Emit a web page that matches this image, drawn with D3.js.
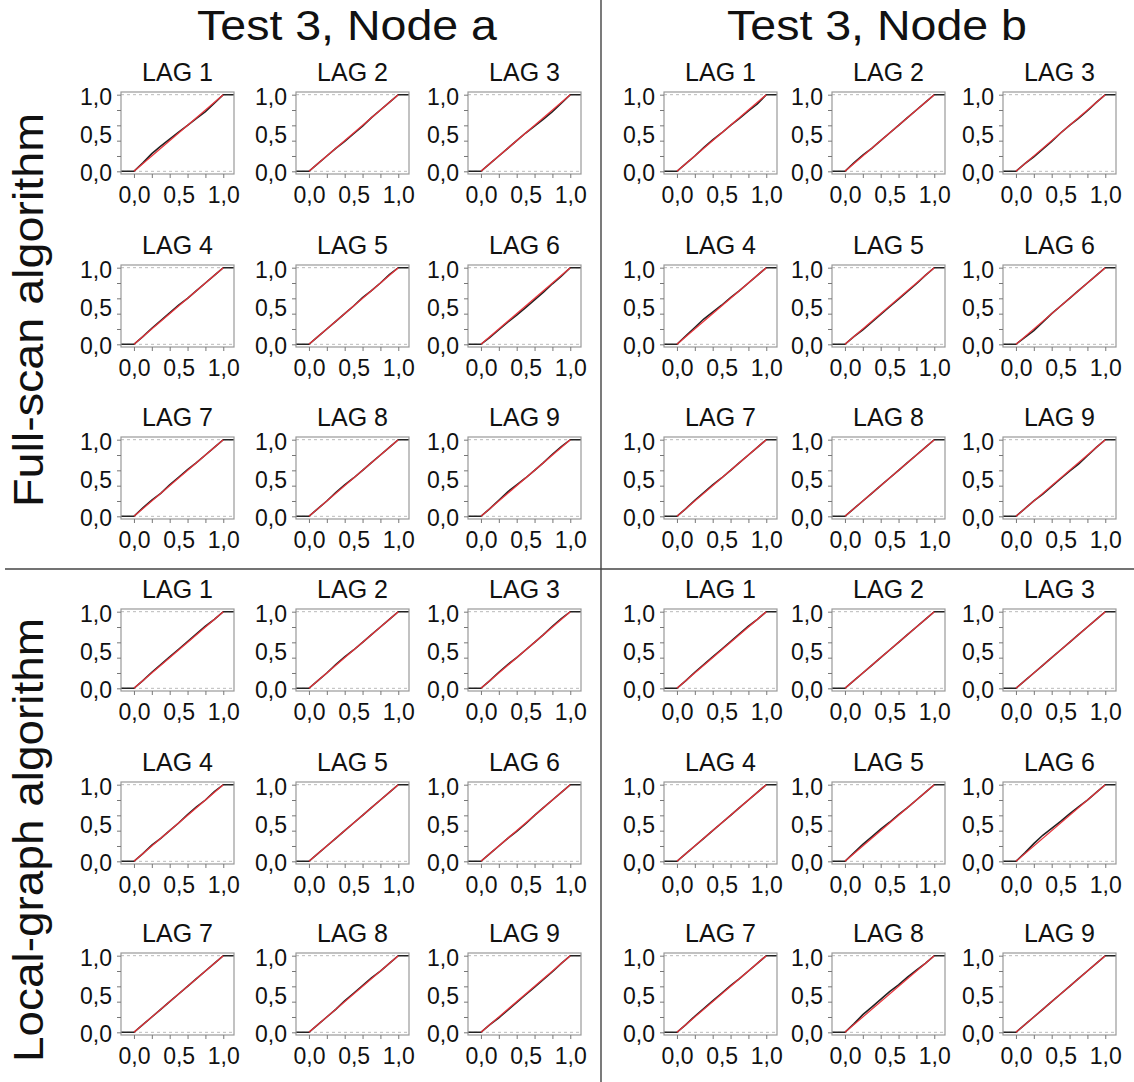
<!DOCTYPE html>
<html>
<head>
<meta charset="utf-8">
<script src="https://cdn.jsdelivr.net/npm/d3@7"></script>
<style>
  body { margin: 0; background: #fff; }
  text { font-family: "Liberation Sans", Arial, sans-serif; fill: #111; }
</style>
</head>
<body>
<div id="chart"></div>
<script>
// ---------- data ----------
const nodeTitles = ["Test 3, Node a", "Test 3, Node b"];
const algorithmLabels = ["Full-scan algorithm", "Local-graph algorithm"];
const lagLabels = ["LAG 1", "LAG 2", "LAG 3", "LAG 4", "LAG 5", "LAG 6", "LAG 7", "LAG 8", "LAG 9"];
const xTicks = [0, 0.2, 0.4, 0.6, 0.8, 1.0];
const yTicks = [0, 0.2, 0.4, 0.6, 0.8, 1.0];
const tickLabelValues = [0, 0.5, 1.0];
const tickLabels = ["0,0", "0,5", "1,0"];
// empirical CDF read at these p-values
const ecdfX = [0, 0.1, 0.2, 0.3, 0.4, 0.5, 0.6, 0.7, 0.8, 0.9, 1.0];
const fullScanNodeA = [
  [0, 0.11, 0.23, 0.33, 0.42, 0.51, 0.60, 0.69, 0.78, 0.89, 1],
  [0, 0.10, 0.20, 0.30, 0.39, 0.49, 0.59, 0.70, 0.80, 0.90, 1],
  [0, 0.10, 0.20, 0.30, 0.40, 0.50, 0.59, 0.68, 0.78, 0.89, 1],
  [0, 0.10, 0.21, 0.31, 0.41, 0.51, 0.60, 0.70, 0.80, 0.90, 1],
  [0, 0.10, 0.20, 0.30, 0.40, 0.50, 0.61, 0.70, 0.80, 0.91, 1],
  [0, 0.09, 0.19, 0.29, 0.38, 0.48, 0.58, 0.68, 0.79, 0.89, 1],
  [0, 0.11, 0.21, 0.30, 0.41, 0.51, 0.61, 0.70, 0.80, 0.90, 1],
  [0, 0.10, 0.20, 0.31, 0.41, 0.50, 0.60, 0.70, 0.80, 0.90, 1],
  [0, 0.10, 0.21, 0.32, 0.41, 0.50, 0.60, 0.70, 0.81, 0.91, 1]
];
const fullScanNodeB = [
  [0, 0.10, 0.20, 0.31, 0.41, 0.50, 0.60, 0.69, 0.79, 0.88, 1],
  [0, 0.11, 0.21, 0.30, 0.40, 0.50, 0.60, 0.70, 0.80, 0.90, 1],
  [0, 0.10, 0.19, 0.29, 0.39, 0.50, 0.60, 0.69, 0.79, 0.90, 1],
  [0, 0.11, 0.22, 0.33, 0.42, 0.51, 0.61, 0.70, 0.80, 0.90, 1],
  [0, 0.10, 0.19, 0.29, 0.39, 0.49, 0.59, 0.69, 0.79, 0.90, 1],
  [0, 0.09, 0.18, 0.29, 0.40, 0.50, 0.60, 0.70, 0.80, 0.90, 1],
  [0, 0.10, 0.21, 0.31, 0.41, 0.50, 0.60, 0.70, 0.80, 0.90, 1],
  [0, 0.10, 0.20, 0.30, 0.40, 0.50, 0.60, 0.70, 0.80, 0.90, 1],
  [0, 0.10, 0.20, 0.29, 0.39, 0.49, 0.59, 0.68, 0.79, 0.90, 1]
];
const localGraphNodeA = [
  [0, 0.10, 0.21, 0.31, 0.41, 0.51, 0.61, 0.71, 0.81, 0.90, 1],
  [0, 0.10, 0.20, 0.31, 0.41, 0.50, 0.60, 0.70, 0.80, 0.90, 1],
  [0, 0.10, 0.21, 0.31, 0.40, 0.50, 0.60, 0.70, 0.81, 0.91, 1],
  [0, 0.10, 0.21, 0.30, 0.40, 0.50, 0.61, 0.71, 0.80, 0.91, 1],
  [0, 0.10, 0.20, 0.30, 0.40, 0.50, 0.60, 0.70, 0.80, 0.90, 1],
  [0, 0.10, 0.20, 0.30, 0.39, 0.49, 0.60, 0.70, 0.80, 0.90, 1],
  [0, 0.10, 0.20, 0.30, 0.40, 0.50, 0.60, 0.70, 0.80, 0.90, 1],
  [0, 0.10, 0.20, 0.30, 0.41, 0.51, 0.61, 0.71, 0.80, 0.90, 1],
  [0, 0.10, 0.19, 0.29, 0.39, 0.49, 0.59, 0.69, 0.79, 0.90, 1]
];
const localGraphNodeB = [
  [0, 0.10, 0.21, 0.31, 0.41, 0.51, 0.61, 0.71, 0.81, 0.90, 1],
  [0, 0.10, 0.20, 0.30, 0.40, 0.50, 0.60, 0.70, 0.80, 0.90, 1],
  [0, 0.10, 0.20, 0.30, 0.40, 0.50, 0.60, 0.70, 0.80, 0.90, 1],
  [0, 0.10, 0.20, 0.30, 0.40, 0.50, 0.60, 0.70, 0.80, 0.90, 1],
  [0, 0.11, 0.22, 0.32, 0.42, 0.51, 0.61, 0.70, 0.80, 0.90, 1],
  [0, 0.11, 0.23, 0.34, 0.43, 0.52, 0.62, 0.71, 0.80, 0.90, 1],
  [0, 0.10, 0.21, 0.31, 0.41, 0.51, 0.61, 0.70, 0.80, 0.90, 1],
  [0, 0.11, 0.23, 0.33, 0.43, 0.53, 0.62, 0.72, 0.81, 0.90, 1],
  [0, 0.10, 0.20, 0.30, 0.40, 0.50, 0.60, 0.70, 0.80, 0.90, 1]
];
const panelData = [[fullScanNodeA, fullScanNodeB], [localGraphNodeA, localGraphNodeB]];

// ---------- layout ----------
const W = 1134, H = 1082;
const colLefts = [[121, 296, 468], [664, 832, 1003]];
const rowTops = [[92, 265, 437], [609, 782, 953]];
const boxW = 113, boxH = 82;

const svg = d3.select("#chart").append("svg").attr("width", W).attr("height", H);
svg.append("rect").attr("width", W).attr("height", H).attr("fill", "#fff");

// separators
svg.append("line").attr("x1", 601).attr("x2", 601).attr("y1", 0).attr("y2", H)
  .attr("stroke", "#333").attr("stroke-width", 1.3);
svg.append("line").attr("x1", 5).attr("x2", W).attr("y1", 569).attr("y2", 569)
  .attr("stroke", "#444").attr("stroke-width", 1.3);

// column titles
const titleX = [347, 877];
nodeTitles.forEach((t, i) => {
  svg.append("text").attr("x", titleX[i]).attr("y", 40)
    .attr("text-anchor", "middle").attr("font-size", 43)
    .attr("textLength", 300).attr("lengthAdjust", "spacingAndGlyphs").text(t);
});
// row labels
const rowCenters = [310, 840];
const rowLens = [394, 444];
algorithmLabels.forEach((t, i) => {
  svg.append("text").attr("transform", `translate(43,${rowCenters[i]}) rotate(-90)`)
    .attr("text-anchor", "middle").attr("font-size", 43)
    .attr("textLength", rowLens[i]).attr("lengthAdjust", "spacingAndGlyphs").text(t);
});

const x = d3.scaleLinear().domain([-0.145, 1.12]).range([0, boxW]);
const y = d3.scaleLinear().domain([-0.035, 1.035]).range([boxH, 0]);
const fmt = d => tickLabels[tickLabelValues.indexOf(d)];

const line = d3.line().x(d => x(d[0])).y(d => y(d[1]));

for (let a = 0; a < 2; a++) {
  for (let n = 0; n < 2; n++) {
    for (let k = 0; k < 9; k++) {
      const r = Math.floor(k / 3), c = k % 3;
      const g = svg.append("g")
        .attr("transform", `translate(${colLefts[n][c]},${rowTops[a][r]})`);
      const vals = panelData[a][n][k];

      // title
      g.append("text").attr("x", boxW / 2).attr("y", -11)
        .attr("text-anchor", "middle").attr("font-size", 25).text(lagLabels[k]);

      // dashed reference lines
      [0, 1].forEach(v => {
        g.append("line").attr("x1", 0).attr("x2", boxW).attr("y1", y(v)).attr("y2", y(v))
          .attr("stroke", "#bbb").attr("stroke-width", 1).attr("stroke-dasharray", "3,3");
      });

      // ECDF (black)
      const pts = [[-0.145, 0]].concat(ecdfX.map((xx, i) => [xx, vals[i]])).concat([[1.12, 1]]);
      g.append("path").datum(pts).attr("d", line)
        .attr("fill", "none").attr("stroke", "#222").attr("stroke-width", 1.6);
      // uniform reference (red)
      g.append("path").datum([[0, 0], [1, 1]]).attr("d", line)
        .attr("fill", "none").attr("stroke", "#e8333a").attr("stroke-width", 1.2);

      // box
      g.append("rect").attr("width", boxW).attr("height", boxH)
        .attr("fill", "none").attr("stroke", "#999").attr("stroke-width", 1.2);

      // ticks
      const yt = g.append("g").call(d3.axisLeft(y).tickValues(yTicks).tickSize(4).tickFormat(""));
      const xt = g.append("g").attr("transform", `translate(0,${boxH})`)
        .call(d3.axisBottom(x).tickValues(xTicks).tickSize(4).tickFormat(""));
      [yt, xt].forEach(s => { s.select(".domain").remove(); s.selectAll("line").attr("stroke", "#777"); });

      // labels
      const yl = g.append("g").call(d3.axisLeft(y).tickValues(tickLabelValues).tickSize(0).tickPadding(9).tickFormat(fmt));
      const xl = g.append("g").attr("transform", `translate(0,${boxH})`)
        .call(d3.axisBottom(x).tickValues(tickLabelValues).tickSize(0).tickPadding(13).tickFormat(fmt));
      [yl, xl].forEach(s => {
        s.select(".domain").remove();
        s.selectAll("text").attr("font-size", 23).attr("fill", "#111")
          .attr("font-family", "Liberation Sans, Arial, sans-serif");
      });
      yl.selectAll("text").attr("transform", "translate(0,2)");
    }
  }
}
</script>
</body>
</html>
